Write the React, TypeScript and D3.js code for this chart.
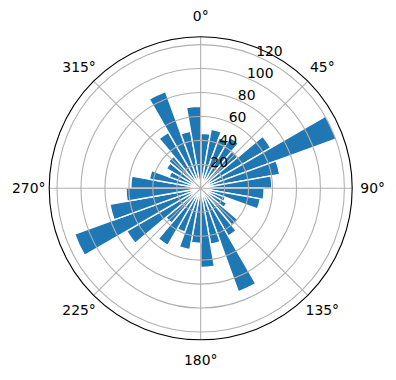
import React from 'react';
import * as d3 from 'd3';

// bar values, one per 10° sector starting at 0° (north), clockwise
const values: number[] = [
  46, 50, 45, 49, 41, 67.6, 120.5, 67, 59.5,
  53, 50.5, 22, 25, 41, 46, 92, 47.5, 66,
  46, 52, 39, 55, 38, 71.4, 112, 77, 62.4,
  58.4, 43.5, 28, 33, 35, 54, 86, 48.4, 68.5,
];
const radialTicks: number[] = [20, 40, 60, 80, 100, 120];
const angleTicks: number[] = [0, 45, 90, 135, 180, 225, 270, 315];

export default function App() {
  const W = 396, H = 380;
  const cx = 200.7, cy = 188.3, R = 151.5;
  const rmax = (d3.max(values) as number) * 1.05;
  const r = d3.scaleLinear().domain([0, rmax]).range([0, R]);
  const n = values.length;
  const th = d3.scaleLinear().domain([0, n]).range([0, 2 * Math.PI]);
  const arc = d3.arc<any>();
  const font = '"DejaVu Sans", sans-serif';
  const deg = (a: number) => (a * Math.PI) / 180;

  return (
    <svg width={W} height={H} style={{ position: 'absolute', left: 0, top: 0, background: '#fff' }}>
      <g transform={`translate(${cx},${cy})`}>
        {values.map((v, i) => (
          <path
            key={i}
            d={arc({ innerRadius: 0, outerRadius: r(v), startAngle: th(i), endAngle: th(i + 1) }) as string}
            fill="#1f77b4"
            stroke="#ffffff"
            strokeWidth={1.4}
          />
        ))}
        {radialTicks.map((t) => (
          <circle key={t} r={r(t)} fill="none" stroke="#b0b0b0" strokeWidth={1.1} />
        ))}
        {angleTicks.map((a) => (
          <line
            key={a}
            x1={0}
            y1={0}
            x2={R * Math.sin(deg(a))}
            y2={-R * Math.cos(deg(a))}
            stroke="#b0b0b0"
            strokeWidth={1.1}
          />
        ))}
        <circle r={R} fill="none" stroke="#000" strokeWidth={1.1} />
        {angleTicks.map((a) => (
          <text
            key={a}
            x={172 * Math.sin(deg(a))}
            y={-172 * Math.cos(deg(a))}
            textAnchor="middle"
            dominantBaseline="central"
            fontFamily={font}
            fontSize={13.9}
            fill="#000"
          >
            {a}°
          </text>
        ))}
        {radialTicks.map((t) => (
          <text
            key={t}
            x={r(t) * Math.sin(deg(22.5)) + 0.5}
            y={-r(t) * Math.cos(deg(22.5)) + 0.5}
            textAnchor="start"
            fontFamily={font}
            fontSize={13.9}
            fill="#000"
          >
            {t}
          </text>
        ))}
      </g>
    </svg>
  );
}
